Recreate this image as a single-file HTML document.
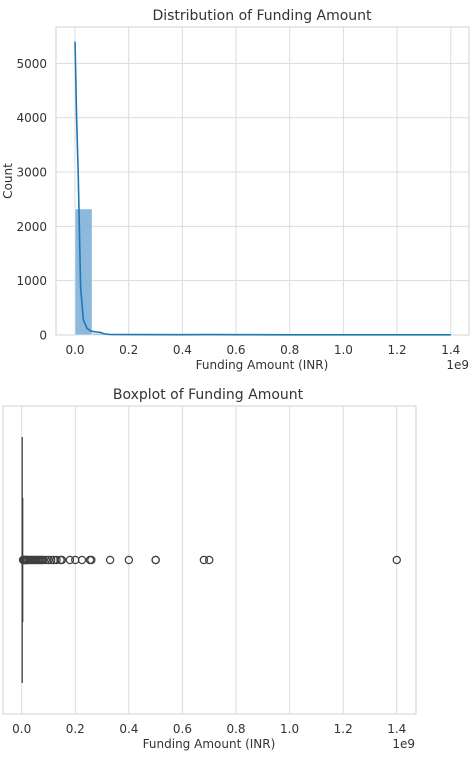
<!DOCTYPE html>
<html><head><meta charset="utf-8"><style>
body{margin:0;background:#fff;}
svg text{font-family:"DejaVu Sans","Liberation Sans",sans-serif;fill:#333;}
</style></head><body>
<svg width="472" height="752" viewBox="0 0 472 752" xmlns="http://www.w3.org/2000/svg">
<g id="topChart"></g>
<g id="botChart"></g>
</svg>
<script>
const xTicks=[0,0.2,0.4,0.6,0.8,1.0,1.2,1.4];
const xTickLabels=["0.0","0.2","0.4","0.6","0.8","1.0","1.2","1.4"];
const yTicks=[0,1000,2000,3000,4000,5000];
const binWidth=1.4/22;
const binCounts=[2320,30,8,4,2,1,1,0,1,0,0,1,0,0,0,0,0,0,0,0,0,1];
const kdeX=[0,0.002,0.006,0.012,0.021,0.031,0.045,0.06,0.08,0.093,0.11,0.13,0.2,0.4,0.5,0.6,0.8,1.0,1.2,1.4];
const kdeY=[5400,5000,4000,2980,890,280,120,70,55,50,20,10,8,6,8,5,4,3,3,3];
const outliers=[0.005,0.008,0.01,0.012,0.015,0.018,0.02,0.025,0.03,0.035,0.04,0.045,0.05,0.055,0.06,0.065,0.07,0.075,0.08,0.09,0.1,0.11,0.12,0.13,0.145,0.15,0.18,0.2,0.225,0.255,0.26,0.33,0.4,0.5,0.5,0.68,0.7,1.4];
const boxStats={q1:0.0005,median:0.001,q3:0.003,whiskerLow:0,whiskerHigh:0.005};

const NS="http://www.w3.org/2000/svg";
function mk(p,t,a,txt){const e=document.createElementNS(NS,t);for(const k in a)e.setAttribute(k,a[k]);if(txt!==undefined)e.textContent=txt;p.appendChild(e);return e;}

const topG=document.getElementById('topChart');
const T={l:56,r:469,t:27,b:335};
const tx=v=>75+v*268.4;
const ty=v=>335-v*0.05432;
mk(topG,'rect',{x:T.l,y:T.t,width:T.r-T.l,height:T.b-T.t,fill:'#fff',stroke:'#d9d9d9','stroke-width':1.2});
xTicks.forEach((v,i)=>{
 const g=mk(topG,'line',{x1:tx(v),x2:tx(v),y1:T.t,y2:T.b,stroke:'#dcdcdc','stroke-width':1});
 
 
 const t=mk(topG,'text',{x:tx(v),y:354,'text-anchor':'middle','font-size':12},xTickLabels[i]);
 
 
});
yTicks.forEach(v=>{
 const g=mk(topG,'line',{x1:T.l,x2:T.r,y1:ty(v),y2:ty(v),stroke:'#dcdcdc','stroke-width':1});
 
 
 const t=mk(topG,'text',{x:47,y:ty(v)+4.5,'text-anchor':'end','font-size':12},String(v));
 
 
});
binCounts.forEach((c,i)=>{
 if(c<=0)return;
 const x0=tx(i*binWidth),x1=tx((i+1)*binWidth);
 const r=mk(topG,'rect',{x:x0,y:ty(c),width:x1-x0,height:ty(0)-ty(c),fill:'#7fb1d8',stroke:'#fff','stroke-width':0.5,'fill-opacity':0.9});
 
 
});
const kp=mk(topG,'path',{d:kdeX.map((x,i)=>(i?'L':'M')+tx(x).toFixed(1)+','+ty(kdeY[i]).toFixed(1)).join(''),fill:'none',stroke:'#1f77b4','stroke-width':1.6});


let e;
e=mk(topG,'text',{x:262,y:20,'text-anchor':'middle','font-size':14},'Distribution of Funding Amount');

e=mk(topG,'text',{x:262,y:369,'text-anchor':'middle','font-size':12},'Funding Amount (INR)');

e=mk(topG,'text',{x:469,y:369,'text-anchor':'end','font-size':12},'1e9');

e=mk(topG,'text',{x:12,y:181,'text-anchor':'middle','font-size':12,transform:'rotate(-90 12 181)'},'Count');


const botG=document.getElementById('botChart');
const B={l:3,r:416,t:406,b:714};
const bx=v=>21.7+v*267.9;
const cy=560;
mk(botG,'rect',{x:B.l,y:B.t,width:B.r-B.l,height:B.b-B.t,fill:'#fff',stroke:'#d9d9d9','stroke-width':1.2});
xTicks.forEach((v,i)=>{
 const g=mk(botG,'line',{x1:bx(v),x2:bx(v),y1:B.t,y2:B.b,stroke:'#dcdcdc','stroke-width':1});
 
 
 const t=mk(botG,'text',{x:bx(v),y:733,'text-anchor':'middle','font-size':12},xTickLabels[i]);
 
 
});
e=mk(botG,'line',{x1:bx(boxStats.whiskerLow)+0.5,x2:bx(boxStats.whiskerLow)+0.5,y1:437,y2:683,stroke:'#3f3f3f','stroke-width':1.3});

e=mk(botG,'rect',{x:bx(boxStats.q1),y:498,width:Math.max(1.5,bx(boxStats.q3)-bx(boxStats.q1)),height:124,fill:'#3f3f3f'});

outliers.forEach(v=>{
 const c=mk(botG,'circle',{cx:bx(v),cy:cy,r:3.6,fill:'none',stroke:'#3f3f3f','stroke-width':1.2});
 
 
});
e=mk(botG,'text',{x:208,y:399,'text-anchor':'middle','font-size':14},'Boxplot of Funding Amount');

e=mk(botG,'text',{x:209,y:748,'text-anchor':'middle','font-size':12},'Funding Amount (INR)');

e=mk(botG,'text',{x:415,y:748,'text-anchor':'end','font-size':12},'1e9');

</script>
</body></html>
